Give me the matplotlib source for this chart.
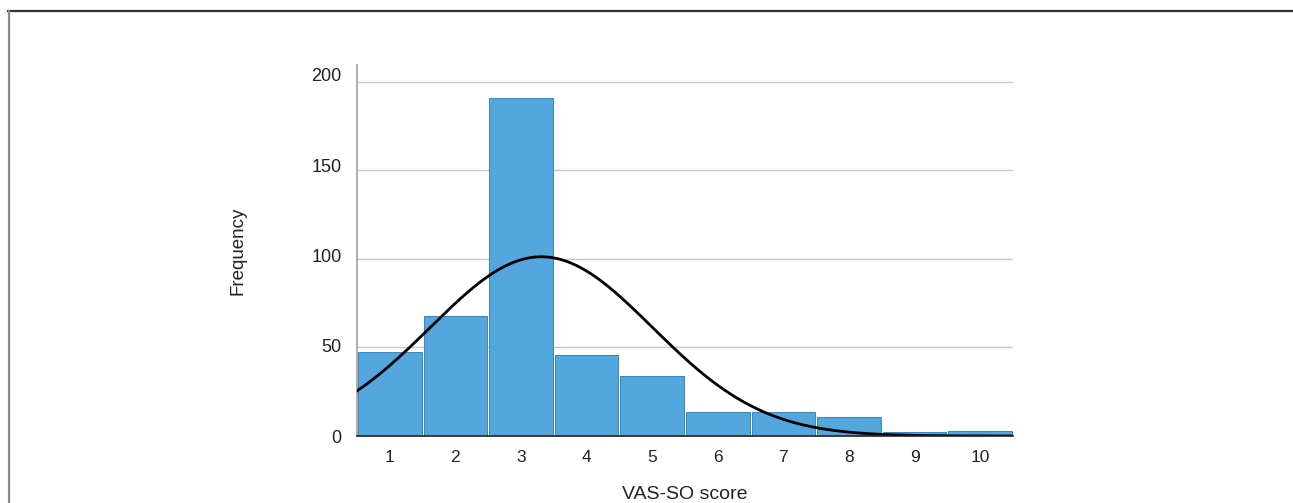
import numpy as np
import matplotlib
matplotlib.use("Agg")
import matplotlib.pyplot as plt
import matplotlib.transforms as mtransforms
from matplotlib.lines import Line2D

plt.rcParams['font.family'] = ['Liberation Sans', 'DejaVu Sans']

# VAS-SO score histogram
scores = [1, 2, 3, 4, 5, 6, 7, 8, 9, 10]
counts = [47.5, 68, 191, 46, 34, 13.5, 13.5, 11, 2, 3]
y_ticks = [0, 50, 100, 150, 200]

fig = plt.figure(figsize=(12.93, 5.03), dpi=100)
ax = fig.add_axes([0.2761, 0.1332, 0.5073, 0.7376])

ax.bar(scores, counts, width=0.97, color='#53a7dd', edgecolor='#3b85bb',
       linewidth=0.7, zorder=2)

# normal curve fitted to the binned data (N * binwidth * pdf)
x = np.array(scores, dtype=float)
w = np.array(counts)
n = w.sum()
mean = (x * w).sum() / n
sd = np.sqrt((w * (x - mean) ** 2).sum() / n)
xs = np.linspace(0.5, 10.5, 400)
ys = n / (sd * np.sqrt(2 * np.pi)) * np.exp(-(xs - mean) ** 2 / (2 * sd ** 2))
ax.plot(xs, ys, color='black', linewidth=2.0, zorder=3)

ax.set_xlim(0.5, 10.5)
ax.set_ylim(0, 209.6)
ax.set_xticks(scores)
ax.set_yticks(y_ticks)
ax.yaxis.grid(True, color='#c8c8c8', linewidth=1.0, zorder=0)
ax.set_axisbelow(True)
ax.tick_params(axis='both', length=0)
ax.tick_params(axis='y', pad=11, labelsize=13, colors='#222222')
ax.tick_params(axis='x', pad=10, labelsize=12.5, colors='#222222')

# y labels in the original sit a little above their gridlines
for lab, v in zip(ax.get_yticklabels(), y_ticks):
    off = mtransforms.ScaledTranslation(0, v / 200 * 7 / 100, fig.dpi_scale_trans)
    lab.set_transform(lab.get_transform() + off)

for s in ['top', 'right']:
    ax.spines[s].set_visible(False)
ax.spines['left'].set_color('#a0a0a0')
ax.spines['left'].set_linewidth(1.2)
ax.spines['bottom'].set_color('#222222')
ax.spines['bottom'].set_linewidth(1.2)
ax.spines['bottom'].set_zorder(4)

ax.set_xlabel('VAS-SO score', fontsize=14, color='#222222')
ax.xaxis.set_label_coords(0.5, -0.135)
ax.set_ylabel('Frequency', fontsize=13.5, color='#222222')
ax.yaxis.set_label_coords(-0.168, 0.5)

# outer frame (top and left edges)
fig.add_artist(Line2D([0.006, 1.0], [1 - 11 / 503, 1 - 11 / 503],
                      transform=fig.transFigure, color='#333333', linewidth=1.6))
fig.add_artist(Line2D([8.5 / 1293, 8.5 / 1293], [0, 1 - 11 / 503],
                      transform=fig.transFigure, color='#8a8a8a', linewidth=1.6))

fig.savefig('out.png', dpi=100)
